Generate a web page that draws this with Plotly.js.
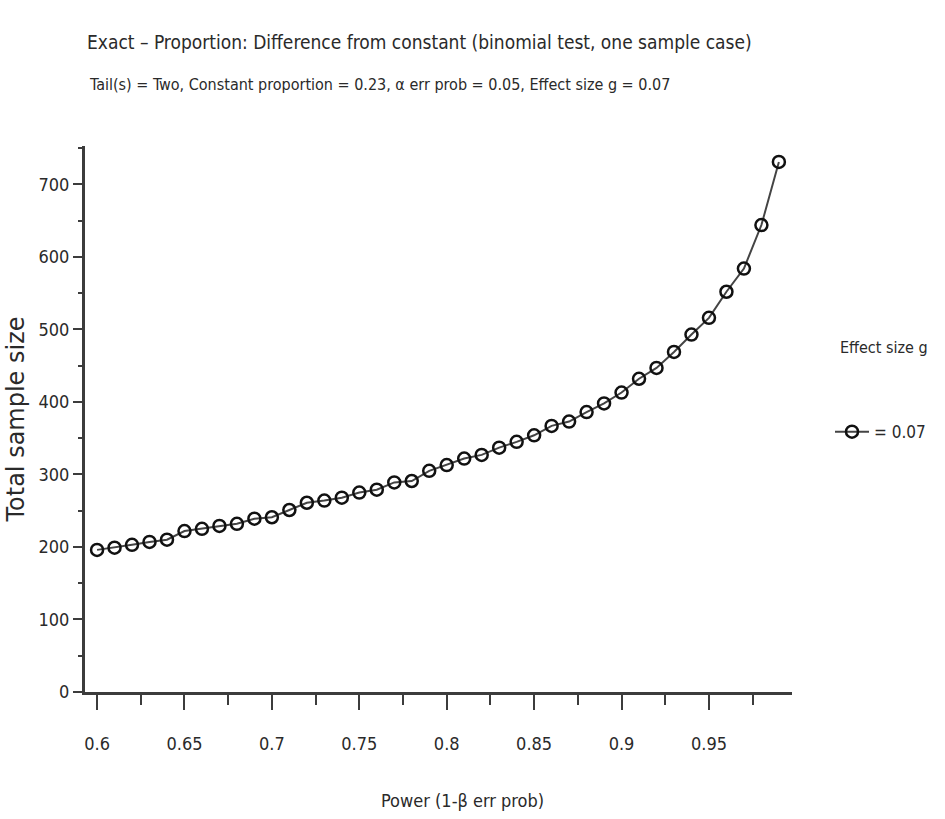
<!DOCTYPE html>
<html>
<head>
<meta charset="utf-8">
<script src="https://cdn.plot.ly/plotly-3.0.1.min.js"></script>
<style>html,body{margin:0;padding:0;background:#fff;}#chart{width:945px;height:819px;}</style>
</head>
<body>
<div id="chart"></div>
<script>
// Power (1-β err prob)
const power = [0.60,0.61,0.62,0.63,0.64,0.65,0.66,0.67,0.68,0.69,
               0.70,0.71,0.72,0.73,0.74,0.75,0.76,0.77,0.78,0.79,
               0.80,0.81,0.82,0.83,0.84,0.85,0.86,0.87,0.88,0.89,
               0.90,0.91,0.92,0.93,0.94,0.95,0.96,0.97,0.98,0.99];
// Total sample size for effect size g = 0.07
const sampleSize = [196,199,203,207,210,222,225,229,232,239,
                    241,251,261,264,268,275,279,289,291,305,
                    313,322,327,337,345,354,367,373,386,398,
                    413,432,447,469,493,516,552,584,644,731];
const xTickVals = [0.6,0.65,0.7,0.75,0.8,0.85,0.9,0.95];
const xTickText = ["0.6","0.65","0.7","0.75","0.8","0.85","0.9","0.95"];
const yTickVals = [0,100,200,300,400,500,600,700];
const yTickText = ["0","100","200","300","400","500","600","700"];
const seriesName = "= 0.07";

const narrow = "'Liberation Sans Narrow', 'DejaVu Sans Condensed', 'Liberation Sans', sans-serif";
const textColor = "#2a2a2a";
const axisColor = "#3c3c3c";

const trace = {
  x: power, y: sampleSize, name: seriesName,
  type: "scatter", mode: "lines+markers",
  line: {color: "#444", width: 2},
  marker: {symbol: "circle-open", size: 12, color: "#111", line: {width: 2.5, color: "#111"}}
};

const layout = {
  width: 945, height: 819,
  margin: {l: 85, r: 153, t: 146, b: 127},
  paper_bgcolor: "#fff", plot_bgcolor: "#fff",
  font: {family: narrow, color: textColor, size: 18},
  title: {
    text: "Exact – Proportion: Difference from constant (binomial test, one sample case)",
    font: {family: narrow, size: 19, color: textColor},
    xref: "container", yref: "container", x: 87/945, xanchor: "left",
    y: 1 - 42/819, yanchor: "middle"
  },
  xaxis: {
    range: [0.5931, 0.9975],
    tickmode: "array", tickvals: xTickVals, ticktext: xTickText,
    showgrid: false, zeroline: false,
    showline: true, linecolor: axisColor, linewidth: 3,
    ticks: "outside", ticklen: 15, tickwidth: 2, tickcolor: axisColor,
    ticklabelstandoff: 18,
    tickfont: {family: narrow, size: 18, color: textColor},
    minor: {dtick: 0.025, tick0: 0.6, ticks: "outside", ticklen: 10, tickwidth: 2, tickcolor: axisColor, showgrid: false},
    fixedrange: true
  },
  yaxis: {
    range: [0, 753],
    tickmode: "array", tickvals: yTickVals, ticktext: yTickText,
    showgrid: false, zeroline: false,
    showline: true, linecolor: axisColor, linewidth: 3,
    ticks: "outside", ticklen: 9, tickwidth: 2, tickcolor: axisColor,
    tickfont: {family: narrow, size: 18, color: textColor},
    minor: {dtick: 50, tick0: 0, ticks: "outside", ticklen: 4, tickwidth: 2, tickcolor: axisColor, showgrid: false},
    title: {text: "Total sample size", font: {family: "'DejaVu Sans', sans-serif", size: 24, color: "#2a2a2a"}, standoff: 8},
    fixedrange: true
  },
  showlegend: true,
  legend: {
    x: (830-85)/707, xanchor: "left", y: 0.476, yanchor: "middle",
    itemwidth: 34,
    font: {family: narrow, size: 17, color: textColor},
    bgcolor: "rgba(0,0,0,0)", borderwidth: 0
  },
  annotations: [
    {text: "Tail(s) = Two, Constant proportion = 0.23, α err prob = 0.05, Effect size g = 0.07",
     xref: "paper", yref: "paper", x: 0.003, y: 1 + (146-85)/546, xanchor: "left", yanchor: "middle",
     showarrow: false, font: {family: narrow, size: 16, color: textColor}},
    {text: "Power (1-β err prob)",
     xref: "paper", yref: "paper", x: (462-85)/707, y: -(800-692)/546, xanchor: "center", yanchor: "middle",
     showarrow: false, font: {family: narrow, size: 18, color: textColor}},
    {text: "Effect size g",
     xref: "paper", yref: "paper", x: (838-85)/707, y: (692-347)/546, xanchor: "left", yanchor: "middle",
     showarrow: false, font: {family: narrow, size: 16, color: textColor}}
  ]
};

Plotly.newPlot("chart", [trace], layout, {displayModeBar: false, staticPlot: true});
</script>
</body>
</html>
